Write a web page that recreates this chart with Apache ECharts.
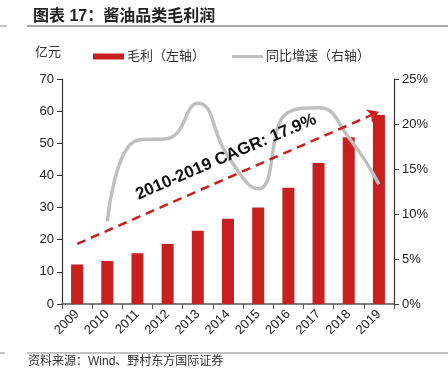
<!DOCTYPE html>
<html>
<head>
<meta charset="utf-8">
<script src="https://cdn.jsdelivr.net/npm/echarts@6/dist/echarts.min.js"></script>
<style>
  html, body { margin: 0; padding: 0; background: #fff; }
  #chart { width: 448px; height: 376px; }
</style>
</head>
<body>
<div id="chart"></div>
<script>
// data
const years = ["2009", "2010", "2011", "2012", "2013", "2014", "2015", "2016", "2017", "2018", "2019"];
const grossProfit = [12.3, 13.4, 15.8, 18.7, 22.8, 26.5, 30.0, 36.2, 43.9, 51.9, 58.8];
const growthPct = [null, 9.2, 18.2, 18.4, 22.3, 16.4, 12.8, 21.3, 21.8, 18.5, 13.3];
const leftTicks = [0, 70, 10];
const rightTicks = [0, 25, 5];
const trendStart = ["2009", 18.7];
const trendEnd = ["2019", 59.8];

const FONT = "'Liberation Sans', Arial, 'Noto Sans CJK SC', sans-serif";
const RED = "#C8201E";
const GREY = "#BFBFBF";

const chart = echarts.init(document.getElementById("chart"));

chart.setOption({
  animation: false,
  textStyle: { fontFamily: FONT },
  title: {
    text: "图表 17：酱油品类毛利润",
    left: 28,
    top: 4,
    textStyle: { fontSize: 16, fontWeight: "bold", color: "#222", fontFamily: FONT },
  },
  legend: {
    left: 88,
    top: 45,
    itemWidth: 31,
    itemHeight: 6,
    itemGap: 27,
    textStyle: { fontSize: 13, color: "#333", fontFamily: FONT, padding: [0, 0, 0, -2] },
    data: [
      { name: "毛利（左轴）", icon: "rect" },
      { name: "同比增速（右轴）", icon: "path://M0,0 L32,0 L32,3 L0,3 Z", itemStyle: { color: GREY } },
    ],
  },
  grid: { left: 62, right: 54, top: 79, bottom: 72 },
  xAxis: {
    type: "category",
    data: years,
    boundaryGap: true,
    axisLine: { lineStyle: { color: "#555", width: 1.5 } },
    axisTick: { show: true, alignWithLabel: false, length: 5, lineStyle: { color: "#555" } },
    axisLabel: { rotate: 45, fontSize: 13, color: "#222", margin: 8, interval: 0 },
  },
  yAxis: [
    {
      type: "value",
      min: leftTicks[0],
      max: leftTicks[1],
      interval: leftTicks[2],
      name: "亿元",
      nameLocation: "end",
      nameGap: 20,
      nameTextStyle: { align: "right", fontSize: 13, color: "#333", padding: [0, 1, 0, 0] },
      splitLine: { show: false },
      axisLine: { show: true, lineStyle: { color: "#333", width: 1.2 } },
      axisTick: { show: true, length: 5, lineStyle: { color: "#333" } },
      axisLabel: { fontSize: 13, color: "#222", margin: 8 },
    },
    {
      type: "value",
      min: rightTicks[0],
      max: rightTicks[1],
      interval: rightTicks[2],
      splitLine: { show: false },
      axisLine: { show: true, lineStyle: { color: "#333", width: 1.2 } },
      axisTick: { show: true, length: 5, lineStyle: { color: "#333" } },
      axisLabel: { fontSize: 13, color: "#222", margin: 8, formatter: "{value}%" },
    },
  ],
  series: [
    {
      name: "毛利（左轴）",
      type: "bar",
      data: grossProfit,
      barWidth: 12,
      itemStyle: { color: RED },
      z: 2,
      markLine: {
        silent: true,
        symbol: ["none", "arrow"],
        symbolSize: 11,
        label: { show: false },
        lineStyle: { color: RED, type: [9, 6], width: 2.5 },
        data: [[{ coord: trendStart }, { coord: trendEnd }]],
      },
    },
    {
      name: "同比增速（右轴）",
      type: "line",
      yAxisIndex: 1,
      data: growthPct,
      smooth: 0.5,
      showSymbol: false,
      lineStyle: { color: GREY, width: 3.5 },
      itemStyle: { color: GREY },
      z: 3,
    },
  ],
  graphic: [
    { type: "line", shape: { x1: 27, y1: 26, x2: 448, y2: 26 }, style: { stroke: "#888", lineWidth: 1.5 } },
    { type: "line", shape: { x1: 27, y1: 353, x2: 448, y2: 353 }, style: { stroke: "#888", lineWidth: 1 } },
    { type: "line", shape: { x1: 0, y1: 26, x2: 7, y2: 26 }, style: { stroke: "#888", lineWidth: 1 } },
    { type: "line", shape: { x1: 0, y1: 353, x2: 5, y2: 353 }, style: { stroke: "#888", lineWidth: 1 } },
    {
      type: "text",
      left: 28,
      top: 356,
      style: { text: "资料来源：Wind、野村东方国际证券", fontSize: 12, fill: "#333", fontFamily: FONT },
    },
    {
      type: "text",
      x: 226,
      y: 157,
      rotation: 23.2 * Math.PI / 180,
      style: {
        text: "2010-2019 CAGR: 17.9%",
        fontSize: 17,
        fontWeight: "bold",
        fill: "#111",
        fontFamily: FONT,
        align: "center",
        verticalAlign: "middle",
      },
      z: 10,
    },
  ],
});
</script>
</body>
</html>
